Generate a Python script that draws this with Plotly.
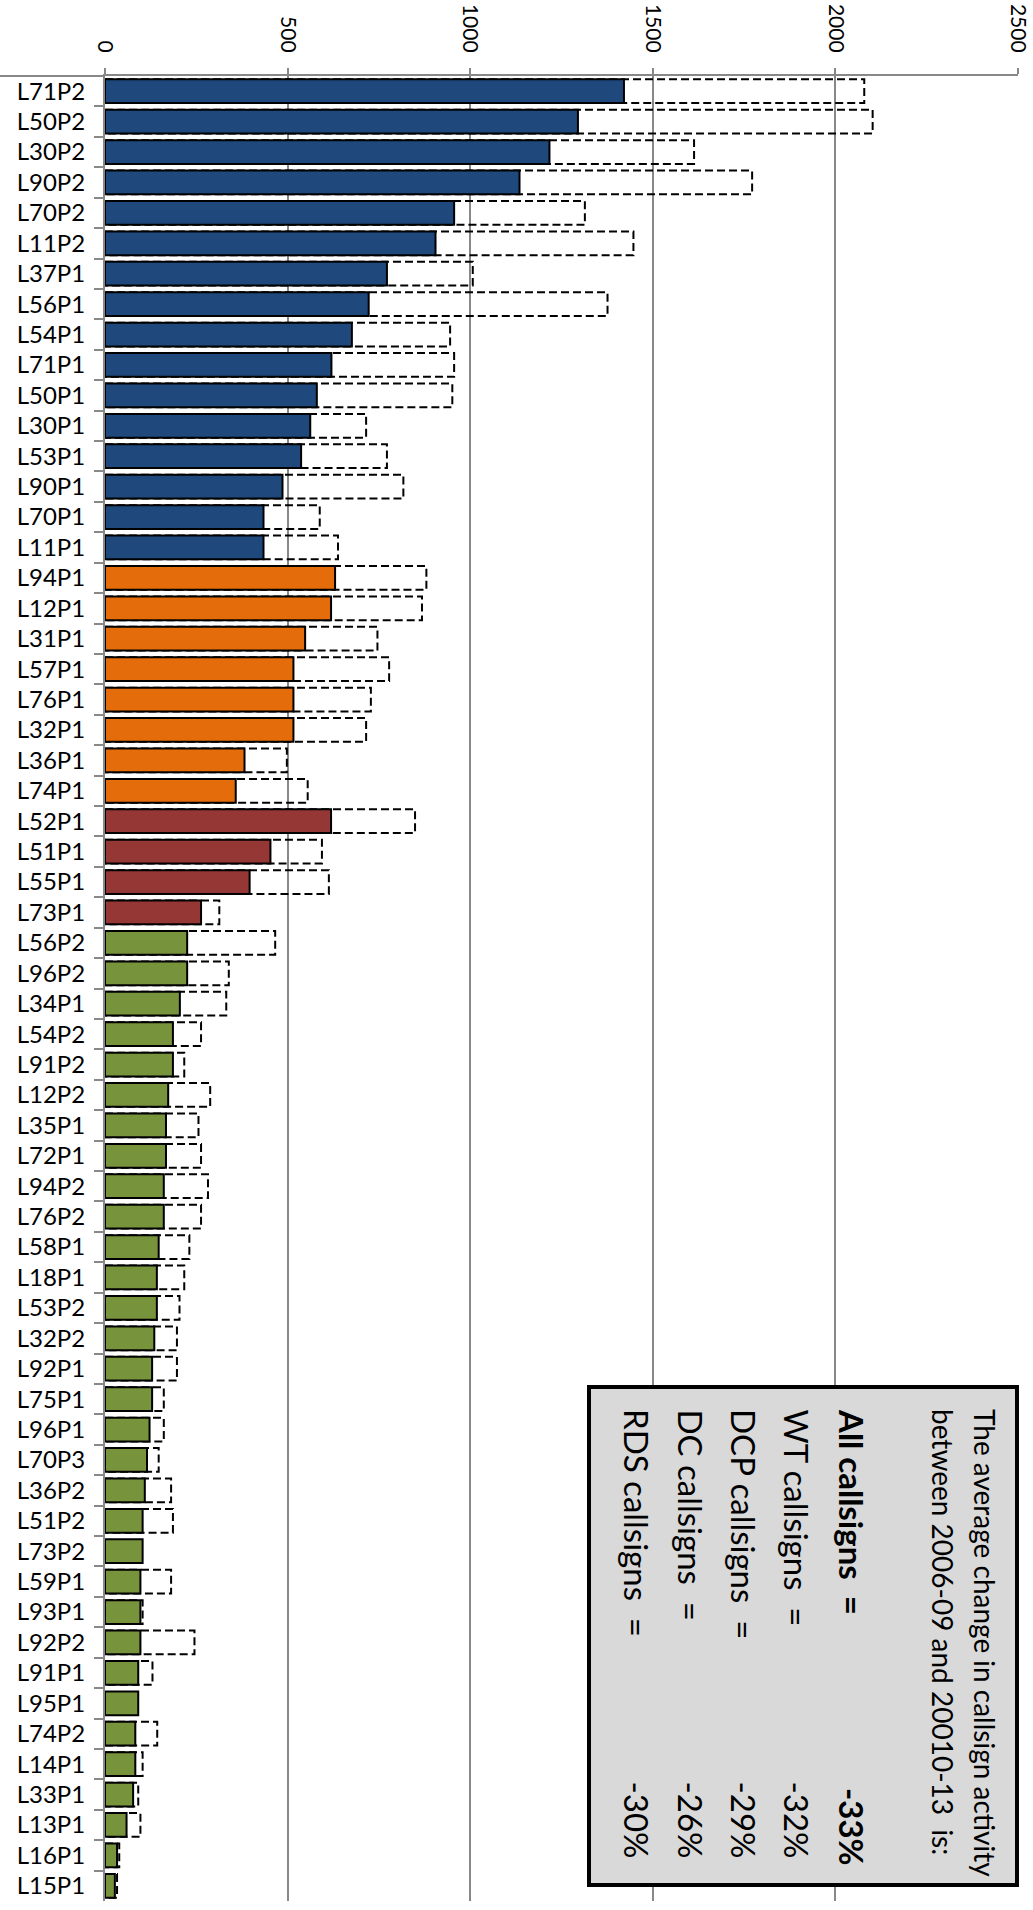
import plotly.graph_objects as go

# Callsign activity: 2010-13 (solid bars) against 2006-09 (dashed outlines)
wt_callsigns = ["L71P2", "L50P2", "L30P2", "L90P2", "L70P2", "L11P2", "L37P1", "L56P1",
                "L54P1", "L71P1", "L50P1", "L30P1", "L53P1", "L90P1", "L70P1", "L11P1"]
wt_2010_13 = [1421, 1295, 1217, 1135, 956, 905, 772, 722, 676, 620, 580, 562, 537, 486, 434, 434]
wt_2006_09 = [2079, 2102, 1613, 1772, 1314, 1447, 1007, 1376, 945, 956, 951, 715, 772, 817, 588, 638]

dcp_callsigns = ["L94P1", "L12P1", "L31P1", "L57P1", "L76P1", "L32P1", "L36P1", "L74P1"]
dcp_2010_13 = [630, 619, 548, 516, 516, 516, 382, 358]
dcp_2006_09 = [880, 868, 746, 778, 728, 715, 498, 555]

dc_callsigns = ["L52P1", "L51P1", "L55P1", "L73P1"]
dc_2010_13 = [619, 453, 396, 263]
dc_2006_09 = [849, 594, 613, 313]

rds_callsigns = ["L56P2", "L96P2", "L34P1", "L54P2", "L91P2", "L12P2", "L35P1", "L72P1",
                 "L94P2", "L76P2", "L58P1", "L18P1", "L53P2", "L32P2", "L92P1", "L75P1",
                 "L96P1", "L70P3", "L36P2", "L51P2", "L73P2", "L59P1", "L93P1", "L92P2",
                 "L91P1", "L95P1", "L74P2", "L14P1", "L33P1", "L13P1", "L16P1", "L15P1"]
rds_2010_13 = [225, 225, 205, 186, 186, 173, 167, 167, 161, 161, 147, 142, 142, 135, 129, 129,
               122, 115, 109, 103, 103, 97, 97, 97, 91, 91, 83, 83, 77, 59, 33, 27]
rds_2006_09 = [466, 339, 332, 263, 217, 288, 256, 263, 282, 263, 231, 217, 204, 197, 197, 161,
               161, 147, 181, 186, None, 181, 103, 245, 130, None, 143, 103, 91, 97, 39, 33]

x_ticks = [0, 500, 1000, 1500, 2000, 2500]

summary_title = ["The average change in callsign activity",
                 "between 2006-09 and 20010-13  is:"]
summary_labels = ["<b>All callsigns  =</b>", "WT callsigns  =", "DCP callsigns  =",
                  "DC callsigns  =", "RDS callsigns  ="]
summary_values = ["<b>-33%</b>", "-32%", "-29%", "-26%", "-30%"]

groups = [
    (wt_callsigns, wt_2010_13, wt_2006_09, "#1F497D"),
    (dcp_callsigns, dcp_2010_13, dcp_2006_09, "#E46C0A"),
    (dc_callsigns, dc_2010_13, dc_2006_09, "#953735"),
    (rds_callsigns, rds_2010_13, rds_2006_09, "#77933C"),
]

W, H = 1033, 1910
ML, MR, MT, MB = 105, 15, 76, 9
PW, PH = W - ML - MR, H - MT - MB
BAR_W = 0.78
GRID = "#888888"
FONT = "Lato"


def px_x(px):
    return (px - ML) / PW


def px_y(py):
    return 1 - (py - MT) / PH


all_callsigns = [c for g in groups for c in g[0]]

fig = go.Figure()
shapes = []
idx = 0
for names, now, before, color in groups:
    fig.add_trace(go.Bar(
        x=now, y=names, orientation="h", width=BAR_W,
        marker=dict(color=color, line=dict(color="black", width=2)),
        showlegend=False,
    ))
    for v in before:
        if v is not None:
            shapes.append(dict(
                type="rect", xref="x", yref="y", layer="between",
                x0=0, x1=v, y0=idx - BAR_W / 2, y1=idx + BAR_W / 2,
                line=dict(color="black", width=2, dash="8px,4px"),
                fillcolor="rgba(0,0,0,0)",
            ))
        idx += 1

# extension of the top axis line over the label column
shapes.append(dict(type="line", xref="paper", yref="paper", layer="above",
                   x0=px_x(0), x1=0, y0=1, y1=1,
                   line=dict(color=GRID, width=2)))

# summary box
shapes.append(dict(type="rect", xref="paper", yref="paper", layer="above",
                   x0=px_x(589), x1=px_x(1017), y0=px_y(1387), y1=px_y(1885),
                   fillcolor="#D9D9D9", line=dict(color="black", width=4)))

annotations = []
for text, cx in zip(summary_title, [985, 943]):
    annotations.append(dict(
        text=text, textangle=90, xref="paper", yref="paper",
        x=px_x(cx), y=px_y(1407), xanchor="center", yanchor="top",
        showarrow=False, font=dict(family=FONT, size=28, color="black"),
    ))
for i, (text, val, cx) in enumerate(zip(summary_labels, summary_values,
                                         [852, 797, 744, 691, 637])):
    annotations.append(dict(
        text=text, textangle=90, xref="paper", yref="paper",
        x=px_x(cx), y=px_y(1407), xanchor="center", yanchor="top",
        showarrow=False, font=dict(family=FONT, size=33, color="black"),
    ))
    annotations.append(dict(
        text=val, textangle=90, xref="paper", yref="paper",
        x=px_x(cx), y=px_y(1868 if i == 0 else 1860), xanchor="center", yanchor="bottom",
        showarrow=False, font=dict(family=FONT, size=33, color="black"),
    ))

fig.update_layout(
    width=W, height=H,
    margin=dict(l=ML, r=MR, t=MT, b=MB, autoexpand=False),
    paper_bgcolor="white", plot_bgcolor="white",
    barmode="overlay",
    font=dict(family=FONT, color="black"),
    shapes=shapes, annotations=annotations,
    xaxis=dict(
        side="top", range=[0, 2500], tickvals=x_ticks,
        tickangle=90, tickfont=dict(size=21, family=FONT),
        showgrid=True, gridcolor=GRID, gridwidth=2,
        showline=True, linecolor=GRID, linewidth=2,
        ticks="outside", ticklen=6, tickcolor=GRID, tickwidth=2,
        zeroline=False, ticklabelstandoff=8, automargin=False,
    ),
    yaxis=dict(
        type="category", categoryorder="array", categoryarray=all_callsigns,
        autorange="reversed", tickson="boundaries",
        tickfont=dict(size=24, family=FONT),
        showline=True, linecolor=GRID, linewidth=2,
        ticks="outside", ticklen=9, tickcolor=GRID, tickwidth=2,
        showgrid=False, zeroline=False, ticklabelstandoff=13, automargin=False,
    ),
)

fig.write_html("out.html")
